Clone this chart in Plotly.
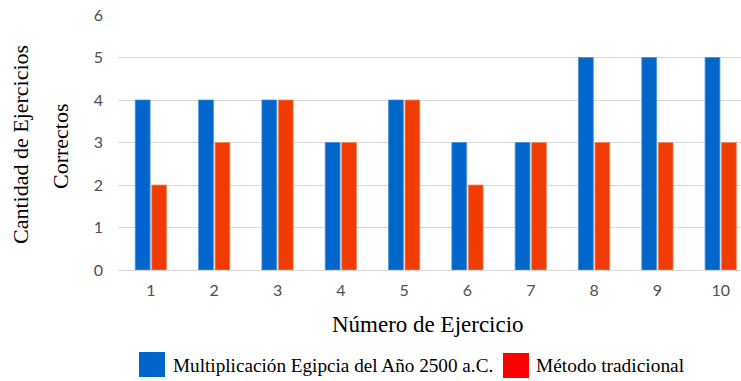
import plotly.graph_objects as go

ejercicios = ["1", "2", "3", "4", "5", "6", "7", "8", "9", "10"]
egipcia = [4, 4, 4, 3, 4, 3, 3, 5, 5, 5]
tradicional = [2, 3, 4, 3, 4, 2, 3, 3, 3, 3]
y_ticks = [0, 1, 2, 3, 4, 5, 6]
serie_egipcia = "Multiplicación Egipcia del Año 2500 a.C."
serie_tradicional = "Método tradicional"

W, H = 741, 381
L, R, T, B = 118, 0, 15, 111
pw, ph = W - L - R, H - T - B

def px_x(p):
    return (p - L) / pw

def px_y(p):
    return (H - B - p) / ph

fig = go.Figure()
fig.add_bar(x=ejercicios, y=egipcia, name=serie_egipcia,
            marker=dict(color="#0066CC", line=dict(color="#4A90DA", width=0.8)),
            showlegend=False)
fig.add_bar(x=ejercicios, y=tradicional, name=serie_tradicional,
            marker=dict(color="#F03C00", line=dict(color="#F58A5C", width=0.8)),
            showlegend=False)

serif = "Liberation Serif, Times New Roman, serif"
tick_font = dict(family="Lato, Carlito, sans-serif", size=16, color="#4F4F4F")
fig.update_layout(
    width=W, height=H,
    margin=dict(l=L, r=R, t=T, b=B),
    paper_bgcolor="white", plot_bgcolor="white",
    barmode="group", bargap=0.48, bargroupgap=0.1,
    xaxis=dict(type="category", range=[-0.52, 9.32], showgrid=False,
               showline=True, linecolor="#D9D9D9", linewidth=1,
               ticks="", ticklabelstandoff=6, tickfont=tick_font),
    yaxis=dict(range=[0, 6], tickvals=y_ticks, showgrid=True, gridcolor="#D9D9D9",
               gridwidth=1, zeroline=False, ticks="", ticklabelstandoff=14,
               tickfont=tick_font),
)

annos = [
    dict(text="Cantidad de Ejercicios", x=px_x(20), y=px_y(145), textangle=-90,
         font=dict(family=serif, size=22, color="black")),
    dict(text="Correctos", x=px_x(60), y=px_y(146), textangle=-90,
         font=dict(family=serif, size=22, color="black")),
    dict(text="Número de Ejercicio", x=px_x(428), y=px_y(324),
         font=dict(family=serif, size=23, color="black")),
    dict(text=serie_egipcia, x=px_x(171), y=px_y(365), xanchor="left",
         font=dict(family=serif, size=19.2, color="black")),
    dict(text=serie_tradicional, x=px_x(534), y=px_y(365), xanchor="left",
         font=dict(family=serif, size=19.4, color="black")),
]
for a in annos:
    a.setdefault("xanchor", "center")
    a.update(xref="paper", yref="paper", yanchor="middle", showarrow=False)
    fig.add_annotation(**a)

fig.add_shape(type="rect", xref="paper", yref="paper",
              x0=px_x(139), x1=px_x(165), y0=px_y(352), y1=px_y(377),
              fillcolor="#0066CC", line=dict(width=0))
fig.add_shape(type="rect", xref="paper", yref="paper",
              x0=px_x(503), x1=px_x(529), y0=px_y(353), y1=px_y(378),
              fillcolor="#FF0000", line=dict(width=0))

fig.write_html("out.html", config={"displayModeBar": False},
               post_script="document.body.style.margin='0';document.body.style.overflow='hidden';")
